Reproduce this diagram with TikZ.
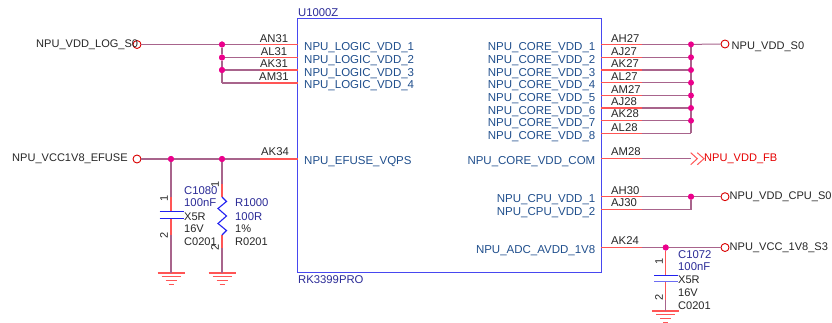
\documentclass[tikz,border=0pt]{standalone}
\usepackage{fontspec}
\setmainfont{Liberation Sans}
\definecolor{wirep}{HTML}{A8648C}
\definecolor{wirer}{HTML}{FF5555}
\definecolor{boxb}{HTML}{4848F0}
\definecolor{pinb}{HTML}{1F4E8C}
\definecolor{refb}{HTML}{2A2A96}
\definecolor{txt}{HTML}{262626}
\definecolor{plate}{HTML}{2020F0}
\tikzset{
  purw/.style={draw=wirep,line width=1.35pt},
  redw/.style={draw=wirer,line width=1.35pt},
  port/.style={circle,draw=red!85!black,line width=0.9pt,minimum size=8pt,inner sep=0pt,fill=white},
  jct/.style={circle,fill=magenta,draw=none,minimum size=6pt,inner sep=0pt},
  body/.style={draw=boxb,line width=1pt,minimum width=303.5pt,minimum height=253pt,inner sep=0pt},
  lab/.style={anchor=base west,inner sep=0pt,font=\fontsize{11.05}{12}\selectfont,text=txt},
  pname/.style={anchor=base west,inner sep=0pt,font=\fontsize{11.5}{12}\selectfont,text=pinb},
  pnamer/.style={anchor=base east,inner sep=0pt,font=\fontsize{11.5}{12}\selectfont,text=pinb},
  pnum/.style={anchor=base,inner sep=0pt,font=\fontsize{11.3}{12}\selectfont,text=txt},
  refd/.style={anchor=base west,inner sep=0pt,font=\fontsize{11.3}{12}\selectfont,text=refb},
  seq/.style={inner sep=0pt,rotate=90,font=\fontsize{11}{11}\selectfont,text=txt},
  plt/.style={draw=plate,line width=1.1pt},
  gndl/.style={draw=wirer,line width=1.1pt},
  zig/.style={draw=plate,line width=1.1pt,line join=miter}
}
\newcommand{\gnd}[3]{% name, x, y
  \coordinate (#1) at (#2,#3);
  \draw[gndl] ([xshift=-13.5pt]#1) -- ([xshift=13.5pt]#1);
  \draw[gndl] ([xshift=-9.5pt,yshift=-3.7pt]#1) -- ([xshift=9.5pt,yshift=-3.7pt]#1);
  \draw[gndl] ([xshift=-5.5pt,yshift=-7.5pt]#1) -- ([xshift=5.5pt,yshift=-7.5pt]#1);
  \draw[gndl] ([xshift=-2.5pt,yshift=-11.5pt]#1) -- ([xshift=2.5pt,yshift=-11.5pt]#1);
}
\begin{document}
\begin{tikzpicture}[x=1pt,y=-1pt]
\useasboundingbox (0,0) rectangle (832,323);
% body
\node[body] (U) at (449.25,145.5) {};
\node[refd,anchor=base west] (Uref) at (298,17) {U1000Z};
\node[refd,anchor=base west] (Uval) at (298,283) {RK3399PRO};
% left logic group
\node[port] (pLog) at (137,44.5) {};
\node[lab] (nLog) at (36,48) {NPU\_VDD\_LOG\_S0};
\node[jct] (jL1) at (222,44.5) {};
\node[jct] (jL2) at (222,57.5) {};
\node[jct] (jL3) at (222,70) {};
\coordinate (jL4) at (222,83);
\foreach \n/\y/\pin/\base/\name/\nb in {1/44.5/AN31/42.5/NPU\_LOGIC\_VDD\_1/50.5,2/57.5/AL31/55.5/NPU\_LOGIC\_VDD\_2/63.5,3/70/AK31/67.8/NPU\_LOGIC\_VDD\_3/76.5,4/83/AM31/80.5/NPU\_LOGIC\_VDD\_4/88.5}{
  \coordinate (sL\n) at (260,\y);
  \coordinate (eL\n) at (297.5,\y);
  \draw[redw] (sL\n) -- (eL\n);
  \draw[purw] (jL\n) -- (sL\n);
  \node[pnum] (numL\n) at (274,\base) {\pin};
  \node[pname] (nameL\n) at (304,\nb) {\name};
}
\draw[purw] (pLog.east) -- (jL1);
\draw[purw] (jL1) -- (jL2);
\draw[purw] (jL2) -- (jL3);
\draw[purw] (jL3) -- (jL4);
\node[jct] at (jL1) {};
\node[jct] at (jL2) {};
\node[jct] at (jL3) {};
% efuse
\node[port] (pEf) at (137,159) {};
\node[lab] (nEf) at (12,162) {NPU\_VCC1V8\_EFUSE};
\node[jct] (jE1) at (171,159) {};
\node[jct] (jE2) at (222,159) {};
\coordinate (sE) at (260,159);
\coordinate (eE) at (297.5,159);
\draw[redw] (sE) -- (eE);
\draw[purw] (pEf.east) -- (jE1);
\draw[purw] (jE1) -- (jE2);
\draw[purw] (jE2) -- (sE);
\node[pnum] (numE) at (275,156) {AK34};
\node[pname] (nameE) at (304,165) {NPU\_EFUSE\_VQPS};
\node[jct] at (jE1) {};
\node[jct] at (jE2) {};
% C1080
\gnd{gC}{171}{273}
\coordinate (cA) at (171,197);
\coordinate (cB) at (171,211.7);
\coordinate (cC) at (171,218.3);
\coordinate (cD) at (171,235);
\draw[purw] (jE1) -- (cA);
\draw[redw] (cA) -- (cB);
\draw[redw] (cC) -- (cD);
\draw[purw] (cD) -- (gC);
\draw[plt] ([xshift=-11.5pt]cB) -- ([xshift=12.5pt]cB);
\draw[plt] ([xshift=-11.5pt]cC) -- ([xshift=12.5pt]cC);
\node[seq] (c1a) at (164,198) {1};
\node[seq] (c1b) at (164,235) {2};
\node[refd] (c1r) at (184,195) {C1080};
\node[refd] (c1v) at (184,207) {100nF};
\node[lab] (c1t) at (184,220) {X5R};
\node[lab] (c1u) at (184,233) {16V};
\node[lab] (c1f) at (184,245) {C0201};
% R1000
\gnd{gR}{222}{273}
\coordinate (rA) at (222,184);
\coordinate (rB) at (222,197);
\coordinate (rC) at (222,235);
\coordinate (rD) at (222,248);
\draw[purw] (jE2) -- (rA);
\draw[redw] (rA) -- (rB);
\draw[redw] (rC) -- (rD);
\draw[purw] (rD) -- (gR);
\draw[zig] (rB) -- (226.5,201.5) -- (218,208.5) -- (226.5,216) -- (218,223.5) -- (226.5,230.5) -- (rC);
\node[seq] (r1a) at (215,184) {1};
\node[seq] (r1b) at (215,247) {2};
\node[refd] (r1r) at (235,207) {R1000};
\node[refd] (r1v) at (235,220) {100R};
\node[lab] (r1t) at (235,233) {1\%};
\node[lab] (r1f) at (235,245) {R0201};
% right core group
\node[port] (pCore) at (725,44) {};
\node[lab] (nCore) at (731.5,50) {NPU\_VDD\_S0};
\foreach \n/\y/\pin/\base/\nb in {1/44.4/AH27/42.2/50.5,2/57.3/AJ27/55.5/63.2,3/70/AK27/67.2/76.5,4/82.7/AL27/80.5/88.5,5/95.5/AM27/93.2/101.5,6/108/AJ28/105.5/114.5,7/120.7/AK28/117.5/126.5,8/133.3/AL28/131.2/139.5}{
  \coordinate (eR\n) at (601,\y);
  \coordinate (sR\n) at (641.5,\y);
  \coordinate (jR\n) at (691,\y);
  \draw[redw] (eR\n) -- (sR\n);
  \draw[purw] (sR\n) -- (jR\n);
  \node[pnum,anchor=base west] (numR\n) at (611,\base) {\pin};
  \node[pnamer] (nameR\n) at (595.5,\nb) {NPU\_CORE\_VDD\_\n};
}
\draw[purw] (jR1) -- (jR8);
\draw[purw,line width=1pt] (jR1) -- (pCore.west);
\foreach \n in {1,...,7}{\node[jct] (dR\n) at (jR\n) {};}
% FB
\coordinate (eF) at (601,158.7);
\coordinate (sF) at (641.5,158.7);
\coordinate (tF) at (690.7,158.7);
\draw[redw] (eF) -- (sF);
\draw[purw] (sF) -- (tF);
\draw[draw=wirer,line width=1pt] (690.7,152.7) -- (697.3,158.7) -- (690.7,164.7);
\draw[draw=wirer,line width=1pt] (697.3,152.7) -- (704,158.7) -- (697.3,164.7);
\node[pnum,anchor=base west] (numF) at (611,155.7) {AM28};
\node[lab,text=red!90!black] (nF) at (704,162) {NPU\_VDD\_FB};
\node[pnamer] (nameF) at (595.5,165) {NPU\_CORE\_VDD\_COM};
% CPU
\node[port] (pCpu) at (725,196.7) {};
\node[lab] (nCpu) at (729.5,200) {NPU\_VDD\_CPU\_S0};
\coordinate (eC1) at (601,196.7);
\coordinate (sC1) at (641.5,196.7);
\coordinate (eC2) at (601,209.3);
\coordinate (sC2) at (641.5,209.3);
\node[jct] (jC1) at (691,196.7) {};
\coordinate (jC2) at (691,209.3);
\draw[redw] (eC1) -- (sC1);
\draw[redw] (eC2) -- (sC2);
\draw[purw] (sC1) -- (jC1);
\draw[purw] (sC2) -- (jC2) -- (jC1);
\draw[purw] (jC1) -- (pCpu.west);
\node[jct] at (jC1) {};
\node[pnum,anchor=base west] (numC1) at (611,194) {AH30};
\node[pnum,anchor=base west] (numC2) at (611,206.7) {AJ30};
\node[pnamer] (nameC1) at (595.5,202) {NPU\_CPU\_VDD\_1};
\node[pnamer] (nameC2) at (595.5,215) {NPU\_CPU\_VDD\_2};
% ADC
\node[port] (pAdc) at (725,247.5) {};
\node[lab] (nAdc) at (729.5,250.7) {NPU\_VCC\_1V8\_S3};
\coordinate (eA) at (601,247.5);
\coordinate (sA) at (641.5,247.5);
\node[jct] (jA) at (665.7,247.5) {};
\draw[redw] (eA) -- (sA);
\draw[purw] (sA) -- (jA);
\draw[purw] (jA) -- (pAdc.west);
\node[pnum,anchor=base west] (numA) at (611,244) {AK24};
\node[pnamer] (nameA) at (595.5,253) {NPU\_ADC\_AVDD\_1V8};
% C1072
\gnd{gA}{665.7}{311}
\coordinate (aB) at (665.7,275.3);
\coordinate (aC) at (665.7,281.7);
\coordinate (aD) at (665.7,300);
\draw[redw] (jA) -- (aB);
\draw[redw] (aC) -- (aD);
\draw[purw] (aD) -- (gA);
\node[jct] at (jA) {};
\draw[plt] ([xshift=-11.7pt]aB) -- ([xshift=12.3pt]aB);
\draw[plt,draw=boxb!80] ([xshift=-11.7pt]aC) -- ([xshift=12.3pt]aC);
\node[seq] (a1a) at (659,261) {1};
\node[seq] (a1b) at (659,297) {2};
\node[refd] (a1r) at (678,258) {C1072};
\node[refd] (a1v) at (678,270) {100nF};
\node[lab] (a1t) at (678,283) {X5R};
\node[lab] (a1u) at (678,296) {16V};
\node[lab] (a1f) at (678,309) {C0201};
\end{tikzpicture}
\end{document}
